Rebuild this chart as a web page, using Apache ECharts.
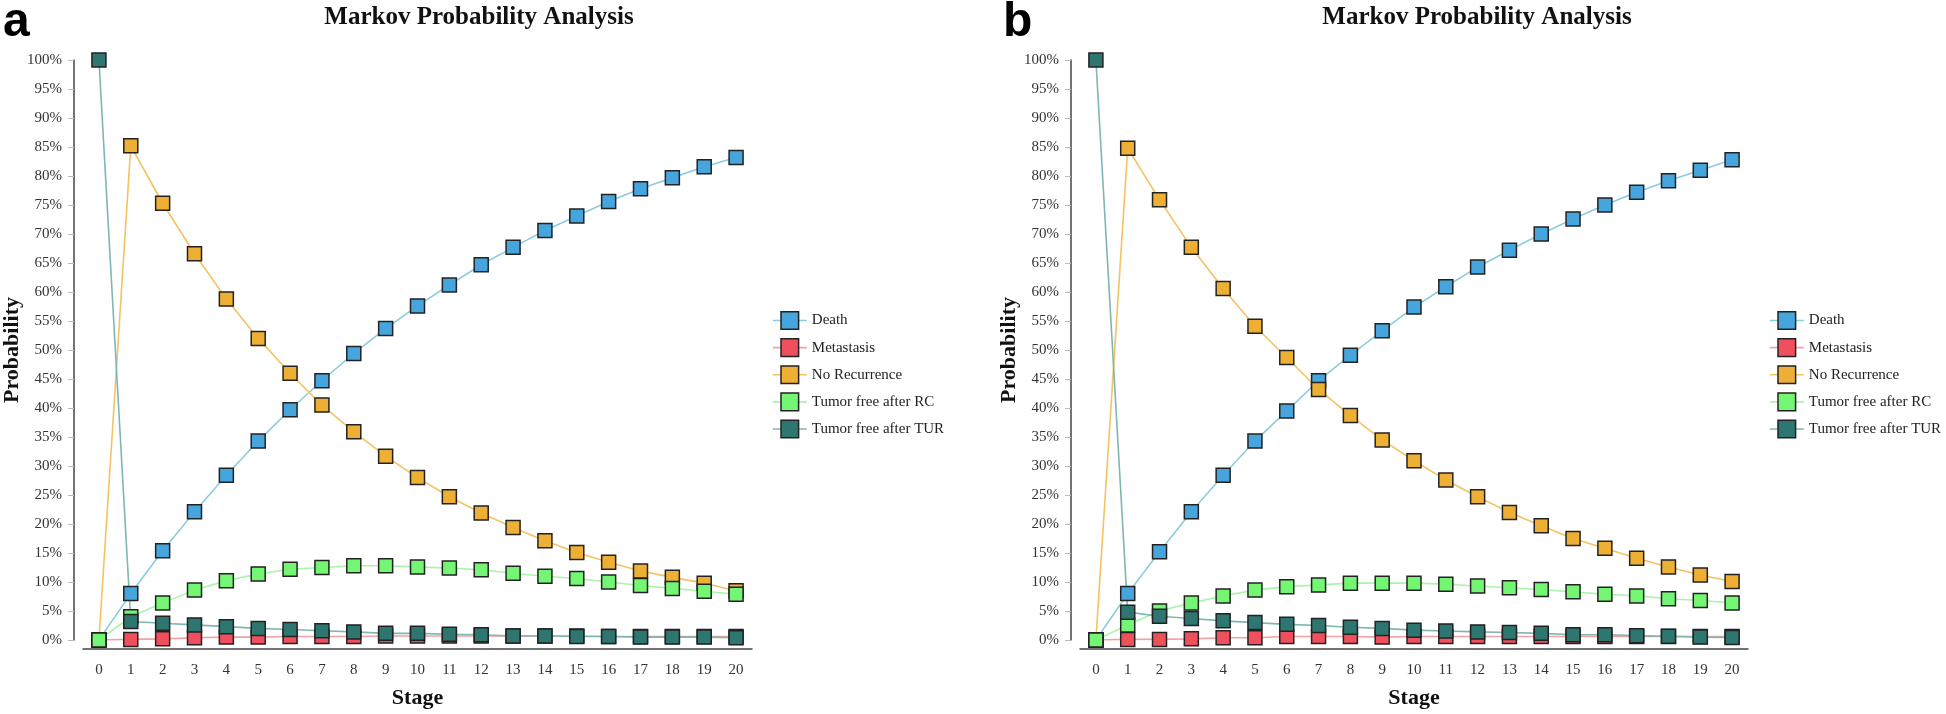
<!DOCTYPE html>
<html>
<head>
<meta charset="utf-8">
<script src="https://cdn.jsdelivr.net/npm/echarts@6/dist/echarts.min.js"></script>
<style>
  html, body { margin: 0; padding: 0; background: #fff; }
  #chart { width: 1946px; height: 714px; }
</style>
</head>
<body>
<div id="chart"></div>
<script>
// stages on the x axis
const stages = ['0','1','2','3','4','5','6','7','8','9','10','11','12','13','14','15','16','17','18','19','20'];
const seriesNames = ['Death', 'Metastasis', 'No Recurrence', 'Tumor free after RC', 'Tumor free after TUR'];

// panel a (values in %)
const a_death = [0, 8.0, 15.4, 22.1, 28.4, 34.3, 39.7, 44.7, 49.4, 53.7, 57.6, 61.2, 64.7, 67.7, 70.6, 73.1, 75.6, 77.8, 79.7, 81.6, 83.2];
const a_meta = [0, 0.1, 0.2, 0.4, 0.5, 0.5, 0.6, 0.6, 0.6, 0.7, 0.7, 0.7, 0.7, 0.7, 0.7, 0.7, 0.6, 0.6, 0.6, 0.6, 0.6];
const a_norec = [0, 85.2, 75.3, 66.6, 58.8, 52.0, 46.0, 40.5, 35.9, 31.7, 28.0, 24.7, 21.9, 19.4, 17.1, 15.1, 13.4, 11.9, 10.8, 9.8, 8.5];
const a_rc = [0, 4.0, 6.4, 8.6, 10.2, 11.4, 12.2, 12.5, 12.8, 12.8, 12.6, 12.4, 12.1, 11.5, 11.0, 10.6, 10.0, 9.4, 8.9, 8.4, 7.9];
const a_tur = [100, 3.2, 2.9, 2.6, 2.3, 2.0, 1.8, 1.6, 1.4, 1.15, 1.15, 1.0, 0.9, 0.7, 0.7, 0.6, 0.6, 0.5, 0.5, 0.5, 0.4];

// panel b (values in %)
const b_death = [0, 8.0, 15.2, 22.1, 28.4, 34.3, 39.5, 44.7, 49.1, 53.3, 57.4, 60.9, 64.3, 67.2, 70.0, 72.6, 75.0, 77.2, 79.2, 81.0, 82.8];
const b_meta = [0, 0.1, 0.1, 0.2, 0.4, 0.4, 0.6, 0.6, 0.6, 0.5, 0.6, 0.6, 0.6, 0.6, 0.6, 0.6, 0.6, 0.6, 0.6, 0.6, 0.6];
const b_norec = [0, 84.8, 75.9, 67.7, 60.6, 54.1, 48.7, 43.2, 38.7, 34.5, 30.9, 27.6, 24.7, 22.0, 19.7, 17.5, 15.8, 14.1, 12.6, 11.2, 10.1];
const b_rc = [0, 2.6, 5.0, 6.4, 7.6, 8.6, 9.2, 9.5, 9.8, 9.8, 9.8, 9.6, 9.3, 9.0, 8.7, 8.3, 7.9, 7.6, 7.1, 6.8, 6.4];
const b_tur = [100, 4.8, 4.1, 3.7, 3.3, 3.0, 2.7, 2.5, 2.2, 2.0, 1.7, 1.55, 1.4, 1.3, 1.15, 0.9, 0.9, 0.75, 0.65, 0.5, 0.45];

const fills = ['#47a5dd', '#f0505e', '#eeb034', '#74f574', '#2e7771'];
const lines = ['#8dcbe0', '#f7a0a2', '#f4c262', '#a9f5a9', '#7fb7b0'];

const serif = 'Liberation Serif';

function makeSeries(data, idx, axisIdx) {
  return {
    name: seriesNames[idx],
    type: 'line',
    xAxisIndex: axisIdx,
    yAxisIndex: axisIdx,
    data: data,
    symbol: 'rect',
    symbolSize: 14,
    itemStyle: { color: fills[idx], borderColor: '#222', borderWidth: 1.5 },
    lineStyle: { color: lines[idx], width: 1.6 },
    emphasis: { disabled: true },
  };
}

function makeX(grid) {
  return {
    type: 'category',
    gridIndex: grid,
    data: stages,
    offset: 9,
    boundaryGap: true,
    name: 'Stage',
    nameLocation: 'middle',
    nameGap: 38,
    nameTextStyle: { fontFamily: serif, fontWeight: 'bold', fontSize: 22, color: '#111' },
    axisLine: { onZero: false, lineStyle: { color: '#444', width: 1.5 } },
    axisTick: { length: 5, lineStyle: { color: '#bbb' } },
    axisLabel: { fontFamily: serif, fontSize: 15, color: '#333', margin: 14 },
    splitLine: { show: false },
  };
}

function makeY(grid) {
  return {
    type: 'value',
    gridIndex: grid,
    min: 0,
    max: 100,
    interval: 5,
    offset: 9,
    name: 'Probability',
    nameLocation: 'middle',
    nameRotate: 90,
    nameGap: 50,
    nameTextStyle: { fontFamily: serif, fontWeight: 'bold', fontSize: 22, color: '#111' },
    axisLine: { show: true, onZero: false, lineStyle: { color: '#444', width: 1.5 } },
    axisTick: { show: true, length: 6, lineStyle: { color: '#bbb' } },
    axisLabel: { fontFamily: serif, fontSize: 15, color: '#333', margin: 12, formatter: '{value}%' },
    splitLine: { show: false },
  };
}

function makeLegend(left) {
  return {
    orient: 'vertical',
    left: left,
    top: 306,
    itemWidth: 34,
    itemHeight: 22,
    itemGap: 8,
    data: seriesNames.map((n, i) => ({
      name: n,
      itemStyle: { color: fills[i], borderColor: '#222', borderWidth: 1.5 },
      lineStyle: { color: lines[i], width: 1.6 },
    })),
    textStyle: { fontFamily: serif, fontSize: 15, color: '#222' },
  };
}

const chart = echarts.init(document.getElementById('chart'));
const option = {
  animation: false,
  backgroundColor: '#fff',
  title: [
    { text: 'Markov Probability Analysis', left: 474, top: 0, textAlign: 'center',
      textStyle: { fontFamily: serif, fontWeight: 'bold', fontSize: 25, color: '#111' } },
    { text: 'Markov Probability Analysis', left: 1472, top: 0, textAlign: 'center',
      textStyle: { fontFamily: serif, fontWeight: 'bold', fontSize: 25, color: '#111' } },
    { text: 'a', left: -2, top: -6,
      textStyle: { fontFamily: 'Liberation Sans', fontWeight: 'bold', fontSize: 48, color: '#000' } },
    { text: 'b', left: 998, top: -6,
      textStyle: { fontFamily: 'Liberation Sans', fontWeight: 'bold', fontSize: 48, color: '#000' } },
  ],
  legend: [makeLegend(767), makeLegend(1764)],
  grid: [
    { left: 83, top: 60, width: 669, height: 580 },
    { left: 1080, top: 60, width: 668, height: 580 },
  ],
  xAxis: [makeX(0), makeX(1)],
  yAxis: [makeY(0), makeY(1)],
  series: [
    makeSeries(a_death, 0, 0),
    makeSeries(a_meta, 1, 0),
    makeSeries(a_norec, 2, 0),
    makeSeries(a_rc, 3, 0),
    makeSeries(a_tur, 4, 0),
    makeSeries(b_death, 0, 1),
    makeSeries(b_meta, 1, 1),
    makeSeries(b_norec, 2, 1),
    makeSeries(b_rc, 3, 1),
    makeSeries(b_tur, 4, 1),
  ]
};
chart.setOption(option, true);
</script>
</body>
</html>
